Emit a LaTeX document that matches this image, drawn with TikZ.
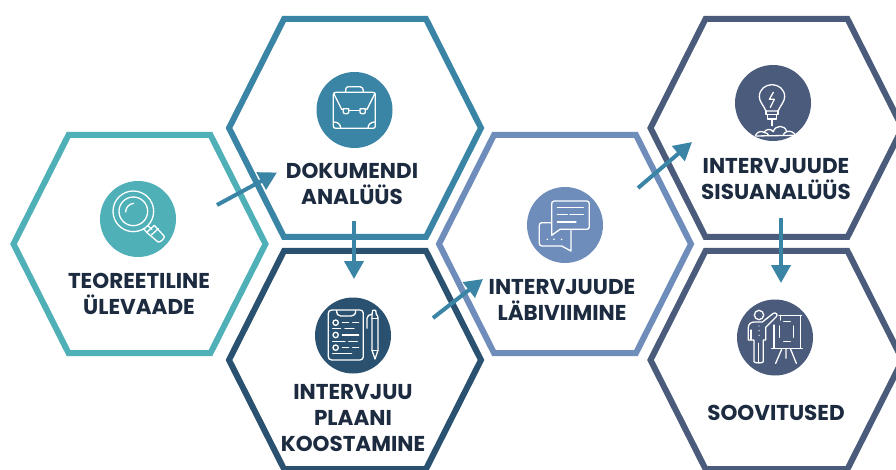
\documentclass[tikz,border=0pt]{standalone}
\usepackage{fontspec}
\setmainfont{Poppins}
\usetikzlibrary{arrows.meta}
\definecolor{cteal}{HTML}{4FB0B8}
\definecolor{cblue}{HTML}{3A84A6}
\definecolor{cdark}{HTML}{2A5270}
\definecolor{cperi}{HTML}{6F8DBB}
\definecolor{cslate}{HTML}{4B5B7C}
\definecolor{ctext}{HTML}{1C2B3F}
\tikzset{
  hexline/.style={line width=6pt,miter limit=10,line join=miter},
  iconbg/.style={circle,minimum size=76pt,inner sep=0pt,draw=none},
  label/.style={font=\fontsize{21.5}{26}\selectfont\bfseries,text=ctext,align=center,inner sep=0pt},
  flow/.style={draw=cblue,line width=4pt,-{Triangle[length=18pt,width=19pt]},shorten >=0pt},
  ico/.style={draw=white,line width=1.3pt,line cap=round,line join=round,fill=none},
  zoomed/.style={x=0.3333pt,y=-0.3333pt}
}
\newcommand{\hexa}[3]{%
  \draw[hexline,draw=#3] (#1-126,#2) -- (#1-71,#2-109) -- (#1+71,#2-109) -- (#1+126,#2)
    -- (#1+71,#2+109) -- (#1-71,#2+109) -- cycle;}
\begin{document}
\begin{tikzpicture}[x=1pt,y=-1pt]
\useasboundingbox (0,0) rectangle (896,470);
\clip (0,0) rectangle (896,470);
\fill[white] (0,0) rectangle (896,470);

\hexa{139.5}{244}{cteal}
\hexa{355}{128}{cblue}
\hexa{355}{360}{cdark}
\hexa{565}{244}{cperi}
\hexa{776.5}{128}{cslate}
\hexa{776.5}{360}{cslate}

\node[iconbg,fill=cteal]  (i1) at (138,219) {};
\node[iconbg,fill=cblue]  (i2) at (354.5,110) {};
\node[iconbg,fill=cdark]  (i3) at (353,335.5) {};
\node[iconbg,fill=cperi]  (i4) at (565,225) {};
\node[iconbg,fill=cslate] (i5) at (773,103) {};
\node[iconbg,fill=cslate] (i6) at (775,337.5) {};

% magnifier
\begin{scope}[shift={(80,170)},zoomed]
  \draw[ico] (160,124) circle (61);
  \draw[ico] (160,124) circle (43);
  \draw[ico] (137,126) arc (180:265:26);
  \draw[ico] (203,167) -- (216,178);
  \draw[ico] (190,175) -- (200,187);
  \draw[ico] (200,187) -- (223,166) -- (253,199) .. controls (255,204) and (240,219) .. (234,216) -- cycle;
  \draw[ico] (215,194) -- (235,176);
\end{scope}
% briefcase
\begin{scope}[shift={(300,60)},zoomed]
  \draw[ico] (108,97) -- (218,97) .. controls (224,97) and (226,100) .. (226,105) -- (226,197) .. controls (226,203) and (224,205) .. (218,205)
     -- (108,205) .. controls (102,205) and (100,203) .. (100,197) -- (100,105) .. controls (100,100) and (102,97) .. (108,97);
  \draw[ico] (137,97) -- (137,88) .. controls (137,83) and (141,80) .. (146,80) -- (180,80) .. controls (186,80) and (190,84) .. (190,97);
  \draw[ico] (101,100) -- (125,148) -- (130,148);
  \draw[ico] (225,100) -- (201,148) -- (196,148);
  \draw[ico] (146,152) -- (180,152);
  \draw[ico] (130,146) -- (146,146) -- (146,157) .. controls (146,163) and (130,163) .. (130,157) -- cycle;
  \draw[ico] (180,146) -- (196,146) -- (196,157) .. controls (196,163) and (180,163) .. (180,157) -- cycle;
  \draw[ico] (102,186) .. controls (114,186) and (122,194) .. (122,205);
  \draw[ico] (224,186) .. controls (212,186) and (204,194) .. (204,205);
\end{scope}
% clipboard and pen
\begin{scope}[shift={(300,285)},zoomed]
  \draw[ico] (85,85) .. controls (85,79) and (89,75) .. (95,75) -- (180,75) .. controls (186,75) and (190,79) .. (190,85) -- (190,215)
     .. controls (190,221) and (186,225) .. (180,225) -- (95,225) .. controls (89,225) and (85,221) .. (85,215) -- cycle;
  \draw[ico] (110,76) .. controls (110,88) and (114,93) .. (122,93) -- (154,93) .. controls (162,93) and (167,88) .. (167,76);
  \foreach \y in {113,150,188} {\draw[ico] (107,\y) circle (8);}
  \draw[ico] (127,113) -- (146,113) (158,113) -- (176,113);
  \draw[ico] (98,131) -- (122,131) (135,131) -- (162,131);
  \draw[ico] (127,150) -- (176,150);
  \draw[ico] (98,169) -- (135,169) (146,169) -- (172,169);
  \draw[ico] (127,188) -- (146,188) (158,188) -- (176,188);
  \draw[ico] (98,206) -- (155,206);
  \draw[ico] (201,130) -- (201,100) .. controls (201,92) and (208,88) .. (216,88);
  \draw[ico] (216,88) -- (218,76) -- (227,76) -- (229,88) .. controls (232,90) and (234,94) .. (234,100) -- (234,196) -- (225,222) -- (216,196) -- cycle;
  \draw[ico] (216,196) -- (234,196);
  \draw[ico] (216,100) -- (234,100);
\end{scope}
% chat bubbles
\begin{scope}[shift={(510,180)},zoomed]
  \draw[ico] (133,63) -- (230,63) .. controls (235,63) and (238,66) .. (238,71) -- (238,140) .. controls (238,145) and (235,148) .. (230,148) -- (150,148) -- (125,166)
     -- (125,71) .. controls (125,66) and (128,63) .. (133,63);
  \draw[ico] (123,128) -- (96,128) .. controls (91,128) and (88,131) .. (88,136) -- (88,190) .. controls (88,195) and (91,198) .. (96,198) -- (155,198) -- (183,213) -- (183,150);
  \draw[ico] (142,82) -- (220,82);
  \draw[ico] (142,104) -- (172,104) (180,104) -- (220,104);
  \draw[ico] (142,126) -- (198,126);
  \foreach \x in {112,132,155} {\fill[white] (\x,178) circle (2.6);}
\end{scope}
% light bulb
\begin{scope}[shift={(720,55)},zoomed]
  \draw[ico] (138,168) .. controls (130,150) and (118,140) .. (118,125) .. controls (118,103) and (136,89) .. (156,89) .. controls (176,89) and (194,103) .. (194,125) .. controls (194,140) and (182,150) .. (174,168) -- cycle;
  \draw[ico] (138,168) -- (138,178) -- (174,178) -- (174,168);
  \draw[ico] (142,178) -- (142,192) -- (170,192) -- (170,178);
  \draw[ico] (156,192) -- (156,212);
  \draw[ico] (160,112) -- (148,133) -- (163,133) -- (151,157);
  \draw[ico] (106,242) .. controls (110,232) and (122,226) .. (132,232) .. controls (138,222) and (152,220) .. (160,230) .. controls (165,210) and (195,208) .. (200,230) .. controls (210,226) and (222,232) .. (226,240);
  \draw[ico] (132,232) .. controls (140,232) and (146,238) .. (146,242);
  \draw[ico] (200,230) .. controls (194,232) and (192,236) .. (190,240);
  \draw[ico] (108,243) -- (224,241);
\end{scope}
% presenter
\begin{scope}[shift={(725,290)},zoomed]
  \draw[ico] (102,75) circle (14);
  \draw[ico] (70,150) -- (70,112) .. controls (70,102) and (78,96) .. (88,96) -- (112,96) -- (145,70) .. controls (152,66) and (160,74) .. (154,80) -- (122,112) -- (122,150) -- (115,150) -- (115,215) .. controls (115,220) and (87,220) .. (87,215) -- (87,150) -- (78,150) -- cycle;
  \draw[ico] (101,160) -- (101,217);
  \draw[ico] (78,120) -- (78,150);
  \foreach \y in {108,122,136} {\fill[white] (102,\y) circle (2);}
  \draw[ico] (162,76) -- (230,76);
  \draw[ico] (166,76) -- (166,90);
  \draw[ico] (226,76) -- (226,175);
  \draw[ico] (140,175) -- (232,175);
  \draw[ico] (147,105) -- (147,175);
  \draw[ico] (176,94) -- (196,94) (176,155) -- (196,155);
  \draw[ico] (163,108) -- (163,142) (206,108) -- (206,142);
  \draw[ico] (170,178) -- (152,220) (197,178) -- (214,220) (183,178) -- (183,205);
\end{scope}

\coordinate (a1s) at (217,205);
\coordinate (a1e) at (277,172.5);
\coordinate (a2s) at (354,221);
\coordinate (a2e) at (354,279);
\coordinate (a3s) at (433,318);
\coordinate (a3e) at (483,279);
\coordinate (a4s) at (638,188);
\coordinate (a4e) at (692,142);
\coordinate (a5s) at (781,218);
\coordinate (a5e) at (781,283);
\draw[flow] (a1s) -- (a1e);
\draw[flow] (a2s) -- (a2e);
\draw[flow] (a3s) -- (a3e);
\draw[flow] (a4s) -- (a4e);
\draw[flow] (a5s) -- (a5e);

\node[label] (t1) at (139,294) {TEOREETILINE\\ÜLEVAADE};
\node[label] (t2) at (352,184) {DOKUMENDI\\ANALÜÜS};
\node[label] (t3) at (353,418.5) {INTERVJUU\\PLAANI\\KOOSTAMINE};
\node[label] (t4) at (562,300) {INTERVJUUDE\\LÄBIVIIMINE};
\node[label] (t5) at (776,179) {INTERVJUUDE\\SISUANALÜÜS};
\node[label] (t6) at (776,413) {SOOVITUSED};
\end{tikzpicture}
\end{document}
